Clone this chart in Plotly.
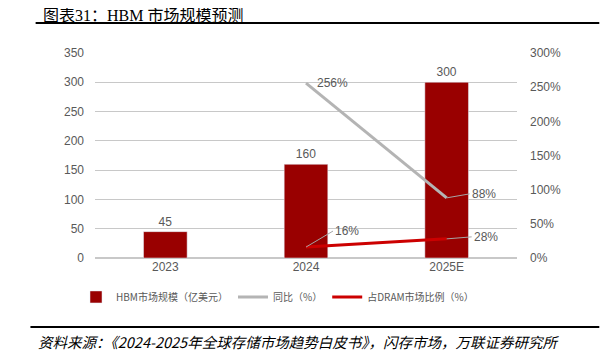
import plotly.graph_objects as go

categories = ["2023", "2024", "2025E"]
market_size = [45, 160, 300]          # 亿美元
yoy_cats = ["2024", "2025E"]
yoy_pct = [256, 88]                   # %
dram_cats = ["2024", "2025E"]
dram_share_pct = [16, 28]             # %

left_ticks = list(range(0, 351, 50))
right_ticks = list(range(0, 301, 50))

BAR_C = "#990000"
GRAY_C = "#B4B4B4"
RED_C = "#CC0000"
TXT_C = "#595959"
CJK = "Noto Sans CJK SC"

pos = {c: i for i, c in enumerate(categories)}
bar_x = [pos[c] for c in categories]
yoy_x = [pos[c] for c in yoy_cats]
dram_x = [pos[c] for c in dram_cats]

fig = go.Figure()
fig.add_trace(go.Bar(
    x=bar_x, y=market_size, name="HBM市场规模（亿美元）",
    marker_color=BAR_C, width=0.31,
    text=[str(v) for v in market_size], textposition="outside",
    textfont=dict(color=TXT_C, size=12, family="Liberation Sans"),
))
fig.add_trace(go.Scatter(
    x=yoy_x, y=yoy_pct, name="同比（%）", yaxis="y2", mode="lines",
    line=dict(color=GRAY_C, width=3),
))
fig.add_trace(go.Scatter(
    x=dram_x, y=dram_share_pct, name="占DRAM市场比例（%）", yaxis="y2", mode="lines",
    line=dict(color=RED_C, width=3),
))

ann = []
offsets_yoy = [(9, 0, False), (23, -4, True)]
for xi, v, (ax, ay, arrow) in zip(yoy_x, yoy_pct, offsets_yoy):
    ann.append(dict(x=xi, y=v, xref="x", yref="y2", text=f"{v}%",
                    showarrow=arrow, arrowhead=0, arrowwidth=1, arrowcolor="#A6A6A6",
                    ax=ax, ay=ay, xanchor="left", yanchor="middle",
                    xshift=0 if arrow else ax,
                    font=dict(color=TXT_C, size=12, family="Liberation Sans")))
offsets_dram = [(27, -16), (25, -2)]
for xi, v, (ax, ay) in zip(dram_x, dram_share_pct, offsets_dram):
    ann.append(dict(x=xi, y=v, xref="x", yref="y2", text=f"{v}%",
                    showarrow=True, arrowhead=0, arrowwidth=1, arrowcolor="#A6A6A6",
                    ax=ax, ay=ay, xanchor="left", yanchor="middle",
                    font=dict(color=TXT_C, size=12, family="Liberation Sans")))

ann.append(dict(x=-0.1288, y=1.183, xref="paper", yref="paper", showarrow=False,
                text="图表31：HBM 市场规模预测", xanchor="left", yanchor="middle",
                font=dict(color="#000000", size=16, family=f"Liberation Serif, {CJK}")))
ann.append(dict(x=-0.1405, y=-0.405, xref="paper", yref="paper", showarrow=False,
                text="<i>资料来源：《2024-2025年全球存储市场趋势白皮书》，闪存市场，万联证券研究所</i>",
                xanchor="left", yanchor="middle",
                font=dict(color="#000000", size=14.5, family=CJK)))

shapes = [
    dict(type="line", xref="paper", yref="paper", x0=-0.1407, x1=1.195, y0=1.146, y1=1.146,
         line=dict(color="#000000", width=2)),
    dict(type="line", xref="paper", yref="paper", x0=-0.153, x1=1.195, y0=-0.3366, y1=-0.3366,
         line=dict(color="#000000", width=2)),
]

fig.update_layout(
    width=612, height=356,
    margin=dict(l=86.5, r=102.5, t=45, b=106),
    paper_bgcolor="white", plot_bgcolor="white",
    showlegend=True,
    legend=dict(orientation="h", x=-0.045, xanchor="left", y=-0.19, yanchor="middle",
                font=dict(color=TXT_C, size=10, family=CJK),
                bgcolor="rgba(0,0,0,0)"),
    xaxis=dict(range=[-0.5, 2.5], tickvals=bar_x, ticktext=categories,
               showgrid=False, zeroline=False, showline=False, ticks="",
               tickfont=dict(color=TXT_C, size=12, family="Liberation Sans")),
    yaxis=dict(range=[0, 350], tickvals=left_ticks, ticklabelstandoff=10,
               showgrid=True, gridcolor="#C8C8C8",
               gridwidth=1, zeroline=True, zerolinecolor="#C8C8C8", showline=False,
               tickfont=dict(color=TXT_C, size=12, family="Liberation Sans")),
    yaxis2=dict(range=[0, 300], tickvals=right_ticks, ticktext=[f"{t}%" for t in right_ticks],
                ticklabelstandoff=12,
                overlaying="y", side="right", showgrid=False, zeroline=False, showline=False,
                tickfont=dict(color=TXT_C, size=12, family="Liberation Sans")),
    annotations=ann, shapes=shapes,
)

fig.write_html("out.html")
